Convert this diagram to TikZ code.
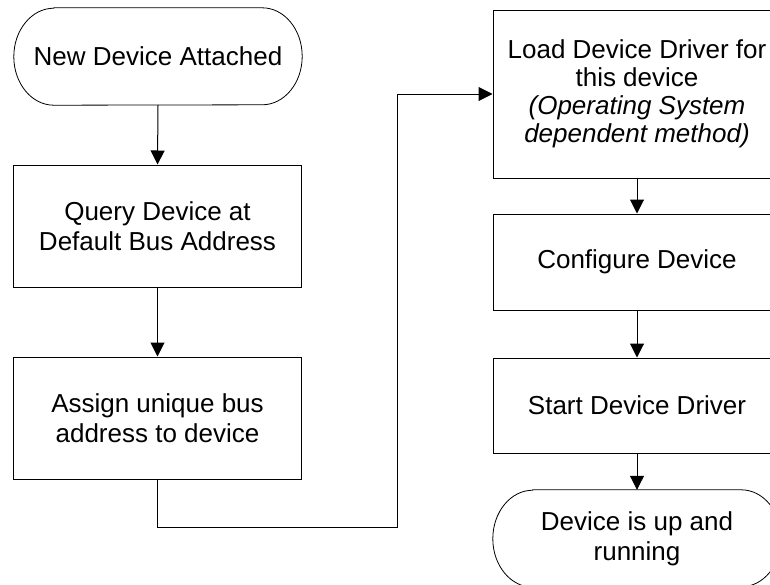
\documentclass[tikz,border=0pt]{standalone}
\usepackage{fontspec}
\setmainfont{Liberation Sans}
\usetikzlibrary{arrows.meta}

\tikzset{
  flowtext/.style={font=\fontsize{26}{30}\selectfont, align=center, inner sep=0pt},
  procbox/.style={flowtext, draw, line width=1pt, minimum width=288pt},
  termbox/.style={flowtext, minimum width=288pt, minimum height=97pt},
  termline/.style={line width=0.8pt},
  flowarrow/.style={line width=1pt, -{Triangle[length=14pt,width=14pt]}},
}

% outline of a terminal: straight top and bottom, elliptic ends
\newcommand{\termoutline}[1]{%
  \draw[termline] ([xshift=40pt]#1.north west) -- ([xshift=-40pt]#1.north east)
    arc[start angle=90, end angle=-90, x radius=40pt, y radius=48.5pt]
    -- ([xshift=40pt]#1.south west)
    arc[start angle=270, end angle=90, x radius=40pt, y radius=48.5pt] -- cycle;}

\begin{document}
\begin{tikzpicture}[x=1pt, y=-1pt]
  \useasboundingbox (0,0) rectangle (770,584);
  \clip (0,0) rectangle (770,584);

  % left column
  \node[termbox] (start) at (158,56.5) {New Device Attached};
  \termoutline{start}
  \node[procbox, minimum height=122pt] (query) at (157.5,226) {Query Device at\\Default Bus Address};
  \node[procbox, minimum height=122pt] (assign) at (157.5,418) {Assign unique bus\\address to device};

  % right column
  \node[procbox, minimum height=168pt, font=\fontsize{26}{28}\selectfont] (load) at (637,94)
    {Load Device Driver for\\this device\\{\itshape (Operating System}\\{\itshape dependent method)}};
  \node[procbox, minimum height=96pt] (config) at (637,262) {Configure Device};
  \node[procbox, minimum height=95pt] (startdrv) at (637,405.5) {Start Device Driver};
  \node[termbox] (finish) at (637,538.5) {Device is up and\\running};
  \termoutline{finish}

  % connectors
  \coordinate (bend) at (397,527);
  \draw[flowarrow] (start.south) -- (query.north);
  \draw[flowarrow] (query.south) -- (assign.north);
  \draw[flowarrow] (assign.south) -- (assign.south |- bend) -- (bend) |- (load.west);
  \draw[flowarrow] (load.south) -- (config.north);
  \draw[flowarrow] (config.south) -- (startdrv.north);
  \draw[flowarrow] (startdrv.south) -- (finish.north);
\end{tikzpicture}
\end{document}
